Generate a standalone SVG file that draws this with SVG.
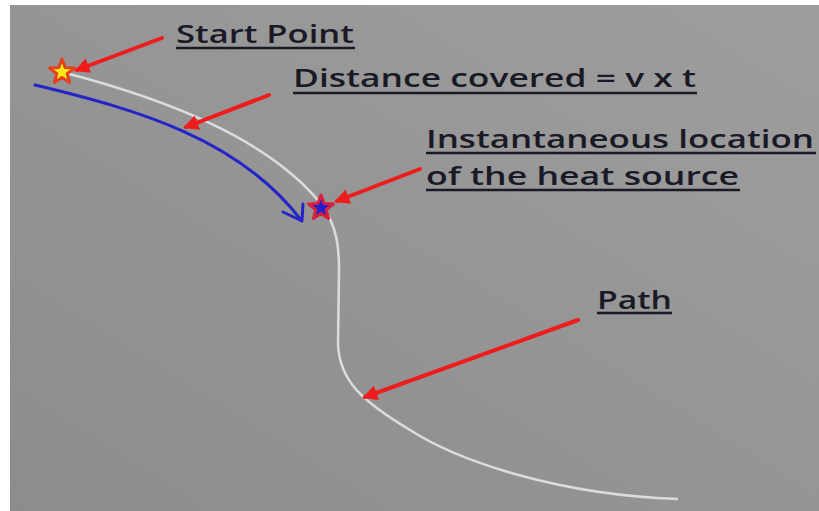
<svg xmlns="http://www.w3.org/2000/svg" width="819" height="511" viewBox="0 0 819 511">
  <defs>
    <linearGradient id="bg" x1="0" y1="1" x2="1" y2="0">
      <stop offset="0" stop-color="#8c8c8c"/>
      <stop offset="1" stop-color="#9e9e9e"/>
    </linearGradient>
    <polygon id="star" points="0,-13 3.2,-4.4 12.4,-4 5.2,1.7 7.6,10.5 0,5.4 -7.6,10.5 -5.2,1.7 -12.4,-4 -3.2,-4.4"/>
    <marker id="redhead" viewBox="0 0 10 10" refX="8" refY="5" markerWidth="4.2" markerHeight="3.8" orient="auto" markerUnits="strokeWidth">
      <path d="M0,0 L10,5 L0,10 z" fill="#ee1c1c"/>
    </marker>
  </defs>
  <style>
    .lbl { font-family: "Open Sans", Lato, "Liberation Sans", sans-serif; font-size: 25px; font-weight: 600; fill: #1a1a26; }
    .ul { stroke: #1a1a26; stroke-width: 2.5; }
    .red { stroke: #ee1c1c; stroke-width: 4; fill: none; stroke-linecap: round; marker-end: url(#redhead); }
    .path { stroke: #dcdcdc; stroke-width: 2.5; fill: none; }
    .blue { stroke: #2424c8; stroke-width: 3; fill: none; stroke-linecap: round; stroke-linejoin: round; }
  </style>
  <rect x="0" y="0" width="819" height="511" fill="#ffffff"/>
  <rect x="10" y="5" width="809" height="506" fill="url(#bg)"/>

  <g id="connectors">
    <path id="travel-path" class="path" d="M62,72 C170,100 270,140 322,205 C338,228 339,250 339,270 L338,345 C340,380 360,400 410,430 C460,462 560,495 678,499"/>
    <path id="distance-arrow" class="blue" d="M35,85 C140,110 240,140 301,220"/>
    <path class="blue" d="M283,212 L302,221 L303,204"/>
    <line class="red" x1="162" y1="38" x2="77" y2="70"/>
    <line class="red" x1="269" y1="95" x2="186" y2="127"/>
    <line class="red" x1="420" y1="169" x2="337" y2="201"/>
    <line class="red" x1="578" y1="320" x2="365" y2="397"/>
  </g>

  <g id="start-star">
    <use href="#star" transform="translate(62,72)" fill="#ffe818" stroke="#e2401e" stroke-width="3" stroke-linejoin="round"/>
  </g>
  <g id="source-star">
    <use href="#star" transform="translate(321,208)" fill="#2020d0" stroke="#d8203c" stroke-width="3" stroke-linejoin="round"/>
  </g>

  <g id="label-start">
    <text class="lbl" x="176" y="43" textLength="178" lengthAdjust="spacingAndGlyphs">Start Point</text>
    <line class="ul" x1="176" y1="48" x2="355" y2="48"/>
  </g>
  <g id="label-distance">
    <text class="lbl" x="293" y="87" textLength="403" lengthAdjust="spacingAndGlyphs">Distance covered = v x t</text>
    <line class="ul" x1="293" y1="93" x2="697" y2="93"/>
  </g>
  <g id="label-instant">
    <text class="lbl" x="426" y="148" textLength="388" lengthAdjust="spacingAndGlyphs">Instantaneous location</text>
    <line class="ul" x1="426" y1="153" x2="816" y2="153"/>
    <text class="lbl" x="426" y="185" textLength="313" lengthAdjust="spacingAndGlyphs">of the heat source</text>
    <line class="ul" x1="426" y1="190" x2="740" y2="190"/>
  </g>
  <g id="label-path">
    <text class="lbl" x="597" y="309" textLength="75" lengthAdjust="spacingAndGlyphs">Path</text>
    <line class="ul" x1="597" y1="313" x2="672" y2="313"/>
  </g>
</svg>
